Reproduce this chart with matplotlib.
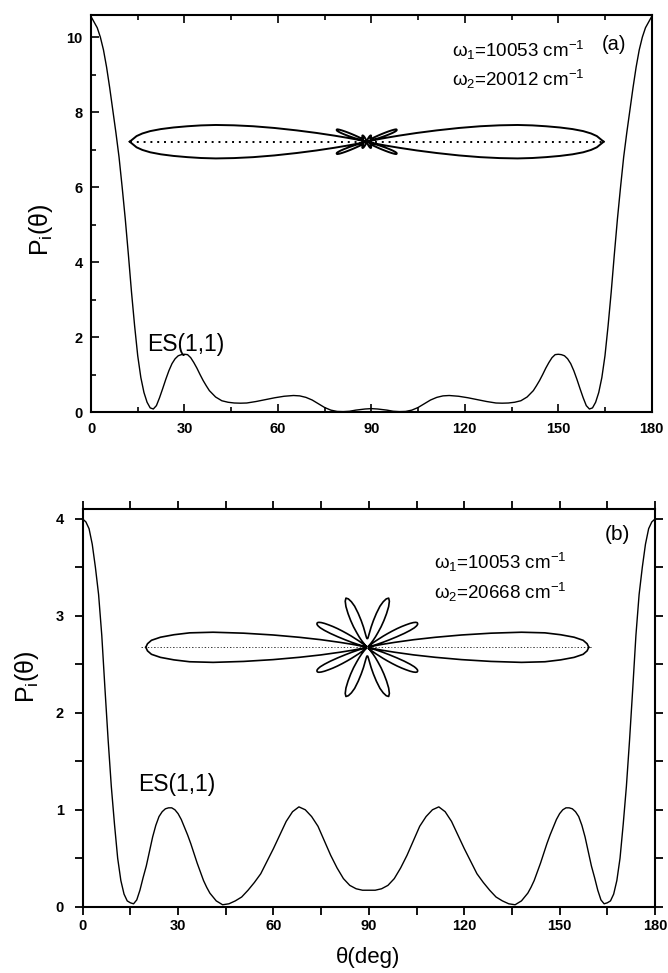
import numpy as np
import matplotlib
matplotlib.use('Agg')
import matplotlib.pyplot as plt
from matplotlib.ticker import MultipleLocator

# ---------------- data ----------------
theta_a = [0, 2, 3, 4, 5, 6, 7, 8, 9, 10, 11, 12, 13, 14, 15, 16, 17, 18, 19, 20,
           21, 22, 23, 24, 25, 26, 27, 28, 29, 30, 31, 32, 33, 34, 35, 36, 37, 38,
           40, 42, 44, 46, 48, 50, 53, 56, 59, 62, 65, 67, 69, 71, 73, 75, 77, 79,
           81, 83, 85, 88, 90, 92, 95, 97, 99, 101, 103, 105, 107, 109, 111, 113,
           115, 118, 121, 124, 127, 130, 132, 134, 136, 138, 140, 142, 143, 144,
           145, 146, 147, 148, 149, 150, 151, 152, 153, 154, 155, 156, 157, 158,
           159, 160, 161, 162, 163, 164, 165, 166, 167, 168, 169, 170, 171, 172,
           173, 174, 175, 176, 177, 178, 180]
P_a = [10.55, 10.25, 10.0, 9.66, 9.2, 8.65, 8.05, 7.45, 6.8, 6.0, 5.15, 4.2, 3.2,
       2.3, 1.5, 0.92, 0.52, 0.26, 0.11, 0.08, 0.17, 0.38, 0.62, 0.87, 1.1, 1.29,
       1.42, 1.5, 1.53, 1.54, 1.53, 1.45, 1.32, 1.17, 1.0, 0.84, 0.7, 0.57, 0.4,
       0.3, 0.26, 0.24, 0.235, 0.24, 0.28, 0.33, 0.38, 0.42, 0.44, 0.43, 0.39,
       0.32, 0.22, 0.12, 0.05, 0.015, 0.01, 0.02, 0.05, 0.08, 0.09, 0.08, 0.05,
       0.02, 0.01, 0.015, 0.05, 0.12, 0.22, 0.32, 0.39, 0.43, 0.44, 0.42, 0.38,
       0.33, 0.28, 0.24, 0.235, 0.24, 0.26, 0.3, 0.4, 0.57, 0.7, 0.84, 1.0, 1.17,
       1.32, 1.45, 1.53, 1.54, 1.53, 1.5, 1.42, 1.29, 1.1, 0.87, 0.62, 0.38, 0.17,
       0.08, 0.11, 0.26, 0.52, 0.92, 1.5, 2.3, 3.2, 4.2, 5.15, 6.0, 6.8, 7.45,
       8.05, 8.65, 9.2, 9.66, 10.0, 10.25, 10.55]

theta_b = [0, 1, 2, 3, 4, 5, 6, 7, 8, 9, 10, 11, 12, 13, 14, 15, 16, 17, 18, 19,
           20, 21, 22, 23, 24, 25, 26, 27, 28, 29, 30, 31, 32, 33, 34, 35, 36, 37,
           38, 39, 40, 42, 44, 46, 48, 50, 52, 54, 56, 58, 60, 62, 64, 66, 68, 70,
           72, 74, 76, 78, 80, 82, 84, 86, 88, 90, 92, 94, 96, 98, 100, 102, 104,
           106, 108, 110, 112, 114, 116, 118, 120, 122, 124, 126, 128, 130, 132,
           134, 136, 138, 140, 141, 142, 143, 144, 145, 146, 147, 148, 149, 150,
           151, 152, 153, 154, 155, 156, 157, 158, 159, 160, 161, 162, 163, 164,
           165, 166, 167, 168, 169, 170, 171, 172, 173, 174, 175, 176, 177, 178,
           179, 180]
P_b = [4.0, 3.97, 3.9, 3.74, 3.5, 3.22, 2.8, 2.25, 1.72, 1.24, 0.85, 0.5, 0.27,
       0.13, 0.06, 0.04, 0.03, 0.07, 0.17, 0.3, 0.42, 0.57, 0.72, 0.84, 0.93, 0.98,
       1.01, 1.02, 1.02, 1.0, 0.96, 0.9, 0.82, 0.74, 0.65, 0.55, 0.45, 0.36, 0.27,
       0.2, 0.14, 0.06, 0.02, 0.03, 0.06, 0.1, 0.17, 0.25, 0.34, 0.47, 0.6, 0.74,
       0.88, 0.98, 1.03, 1.0, 0.93, 0.83, 0.68, 0.53, 0.4, 0.29, 0.22, 0.185, 0.17,
       0.17, 0.17, 0.185, 0.22, 0.29, 0.4, 0.53, 0.68, 0.83, 0.93, 1.0, 1.03, 0.98,
       0.88, 0.74, 0.6, 0.47, 0.34, 0.25, 0.17, 0.1, 0.06, 0.03, 0.02, 0.06, 0.14,
       0.2, 0.27, 0.36, 0.45, 0.55, 0.65, 0.74, 0.82, 0.9, 0.96, 1.0, 1.02, 1.02,
       1.01, 0.98, 0.93, 0.84, 0.72, 0.57, 0.42, 0.3, 0.17, 0.07, 0.03, 0.04, 0.06,
       0.13, 0.27, 0.5, 0.85, 1.24, 1.72, 2.25, 2.8, 3.22, 3.5, 3.74, 3.9, 3.97, 4.0]

x_ticks = [0, 30, 60, 90, 120, 150, 180]
y_ticks_a = [0, 2, 4, 6, 8, 10]
y_ticks_b = [0, 1, 2, 3, 4]

label_a = "(a)"
label_b = "(b)"
w_a = ["ω$_1$=10053 cm$^{-1}$", "ω$_2$=20012 cm$^{-1}$"]
w_b = ["ω$_1$=10053 cm$^{-1}$", "ω$_2$=20668 cm$^{-1}$"]
state = "ES(1,1)"

# ---------------- style ----------------
plt.rcParams['font.family'] = ['Liberation Sans', 'DejaVu Sans']
plt.rcParams['mathtext.fontset'] = 'custom'
plt.rcParams['mathtext.rm'] = 'Liberation Sans'
plt.rcParams['mathtext.it'] = 'Liberation Sans:italic'
plt.rcParams['mathtext.bf'] = 'Liberation Sans:bold'

W, H = 668, 973
fig = plt.figure(figsize=(W / 100, H / 100), dpi=100)


def px_axes(l, t, r, b, **kw):
    return fig.add_axes([l / W, 1 - b / H, (r - l) / W, (b - t) / H], **kw)


def ftext(x, y, s, **kw):
    fig.text(x / W, 1 - y / H, s, **kw)


# ---------------- panel (a) ----------------
ax1 = px_axes(91, 15, 651.7, 412)
ax1.plot(theta_a, P_a, color='k', lw=1.0)
ax1.set_xlim(0, 180)
ax1.set_ylim(0, 10.59)
ax1.set_xticks(x_ticks)
ax1.set_yticks(y_ticks_a)
ax1.xaxis.set_minor_locator(MultipleLocator(15))
ax1.yaxis.set_minor_locator(MultipleLocator(1))
ax1.tick_params(which='both', direction='in', top=True, right=False, width=1.2)
ax1.tick_params(which='major', length=5.5)
ax1.tick_params(which='minor', length=3.5)
ax1.tick_params(axis='x', pad=7)
ax1.tick_params(axis='y', pad=6)
for s in ax1.spines.values():
    s.set_linewidth(1.5)
for lab in ax1.get_xticklabels() + ax1.get_yticklabels():
    lab.set_fontsize(10.5)
    lab.set_fontweight('bold')

# ---------------- panel (b) ----------------
ax2 = px_axes(82.7, 509.3, 655, 906.7)
ax2.plot(theta_b, P_b, color='k', lw=1.0)
ax2.set_xlim(0, 180)
ax2.set_ylim(0, 4.1)
ax2.set_xticks(x_ticks)
ax2.set_yticks(y_ticks_b)
ax2.xaxis.set_minor_locator(MultipleLocator(15))
ax2.yaxis.set_minor_locator(MultipleLocator(0.5))
ax2.tick_params(which='both', direction='out', top=True, right=True,
                length=5.5, width=1.3)
ax2.tick_params(axis='x', pad=3.5)
ax2.tick_params(axis='y', pad=8)
for s in ax2.spines.values():
    s.set_linewidth(1.5)
for lab in ax2.get_xticklabels() + ax2.get_yticklabels():
    lab.set_fontsize(10.5)
    lab.set_fontweight('bold')

# ---------------- polar insets ----------------
def polar_inset(cx, cy, half_w, half_h, theta, P, k, lw, dot_style, dot_lw,
                dot_color, dot_ext):
    P = np.asarray(P, float)
    th = np.radians(theta)
    P0 = P[0]
    sx = (half_w - dot_ext) / P0          # px per data unit (horizontal)
    sy = k * sx                           # px per data unit (vertical)
    ax = px_axes(cx - half_w, cy - half_h, cx + half_w, cy + half_h)
    ax.set_xlim(-half_w / sx, half_w / sx)
    ax.set_ylim(-half_h / sy, half_h / sy)
    ax.axis('off')
    ax.axhline(0, color=dot_color, lw=dot_lw, linestyle=dot_style)
    x = P * np.cos(th)
    y = P * np.sin(th)
    ax.plot(x, y, color='k', lw=lw, clip_on=False, solid_joinstyle='round')
    ax.plot(x, -y, color='k', lw=lw, clip_on=False, solid_joinstyle='round')
    return ax


polar_inset(366.7, 141.7, 237, 30, theta_a, P_a, 0.7, 1.4,
            (0, (1, 2.5)), 1.4, 'k', 0.0)
polar_inset(367.3, 647.3, 226, 60, theta_b, P_b, 0.93, 1.2,
            (0, (1.5, 2, 1, 2)), 0.7, '#333333', 4.5)

# ---------------- texts ----------------
ftext(452, 50, w_a[0], fontsize=13.5, va='center', ha='left')
ftext(452, 79, w_a[1], fontsize=13.5, va='center', ha='left')
ftext(614, 45, label_a, fontsize=14.5, va='center', ha='center')
ftext(147, 345, state, fontsize=16.5, va='center', ha='left')

ftext(434, 562, w_b[0], fontsize=13.5, va='center', ha='left')
ftext(434, 592, w_b[1], fontsize=13.5, va='center', ha='left')
ftext(617, 534, label_b, fontsize=15, va='center', ha='center')
ftext(138, 784, state, fontsize=16.5, va='center', ha='left')

ylab = "P$_{\\mathrm{i}}$(θ)"
ftext(41, 230, ylab, fontsize=18, rotation=90, va='center', ha='center')
ftext(27, 677, ylab, fontsize=18, rotation=90, va='center', ha='center')
ftext(368, 958, "θ(deg)", fontsize=16, va='center', ha='center')

fig.savefig('out.png', dpi=100)
